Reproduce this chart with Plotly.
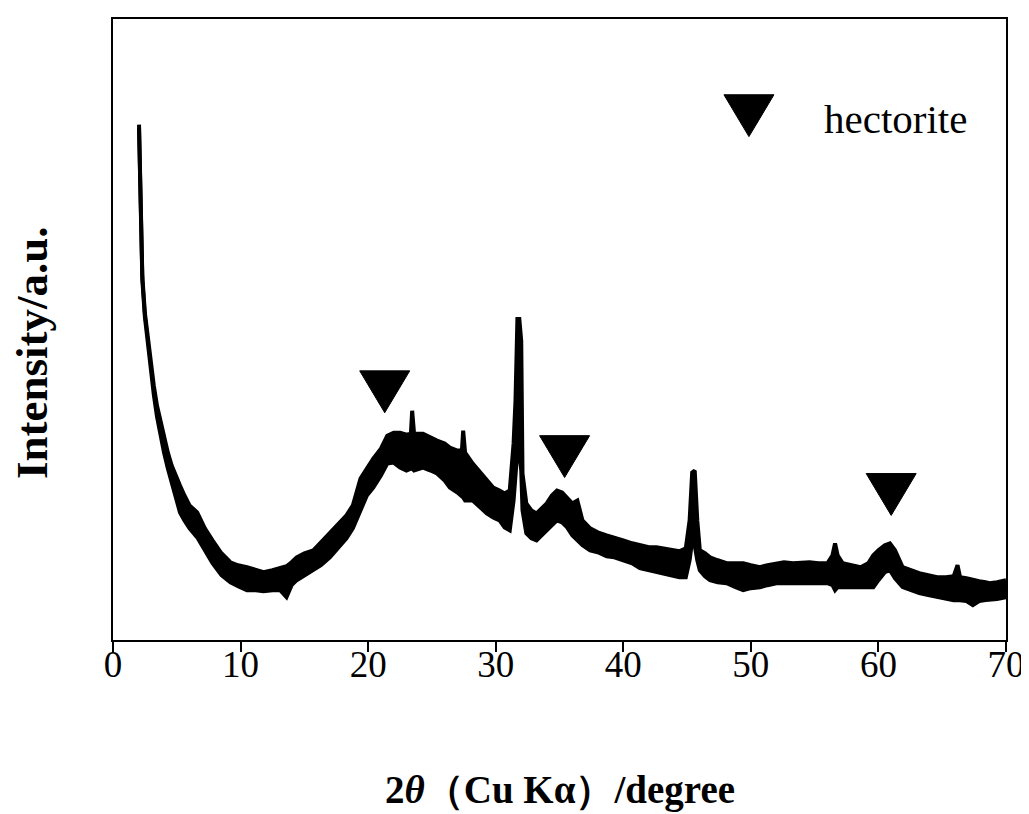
import plotly.graph_objects as go

# 2-theta positions (degree) and the upper / lower edges of the noisy XRD trace (a.u.)
two_theta = [2.04, 2.12, 2.19, 2.30, 2.50, 2.74, 3.0, 3.2, 3.45, 3.7, 4.0, 4.3, 4.6, 4.9, 5.25, 5.6, 6.0,
             6.6, 7.2, 7.8, 8.5, 9.2, 9.8, 10.5, 11.2, 11.8, 12.5, 13.1, 13.6, 14.0, 14.4, 15.0, 15.7,
             16.3, 17.0, 17.6, 18.3, 18.8, 19.4, 19.9, 20.4, 21.0, 21.5, 22.0, 22.5, 23.0, 23.35, 23.45,
             23.6, 24.3, 24.9, 25.4, 26.0, 26.4, 27.0, 27.35, 27.45, 27.6, 28.2, 28.8, 29.3, 29.8, 30.3,
             30.7, 31.1, 31.4, 31.55, 31.7, 31.85, 32.0, 32.1, 32.4, 32.8, 33.2, 33.6, 34.0, 34.4, 34.8,
             35.2, 35.6, 36.0, 36.4, 36.8, 37.4, 38.0, 38.7, 39.3, 40.0, 40.7, 41.3, 42.0, 42.6, 43.2,
             43.8, 44.4, 44.9, 45.2, 45.4, 45.6, 45.8, 46.0, 46.4, 46.8, 47.4, 48.1, 48.8, 49.4, 50.0,
             50.7, 51.3, 52.0, 52.6, 53.3, 54.0, 54.6, 55.3, 56.0, 56.4, 56.6, 56.8, 57.2, 57.9, 58.6,
             59.2, 59.6, 60.0, 60.5, 60.9, 61.3, 61.9, 62.5, 63.2, 63.9, 64.6, 65.3, 65.9, 66.2, 66.4,
             66.9, 67.4, 67.9, 68.4, 68.7, 69.3, 70.0]
upper = [517, 470, 417, 365, 328, 300, 275, 255, 235, 220, 203, 188, 175, 165, 155, 145, 135,
         128, 112, 100, 87, 78, 75, 73, 70, 68, 70, 72, 74, 78, 83, 87, 90,
         98, 107, 115, 125, 135, 162, 172, 182, 192, 205, 208, 208, 206, 207, 230,
         207, 207, 203, 200, 197, 193, 190, 190, 210, 188, 177, 168, 160, 153, 150,
         147, 150, 197, 240, 322, 322, 300, 167, 137, 130, 127, 132, 137, 145, 150,
         148, 143, 137, 140, 120, 112, 108, 105, 103, 100, 97, 95, 93, 93, 92,
         90, 89, 92, 120, 168, 170, 120, 90, 87, 83, 80, 77, 77, 77, 75,
         73, 75, 77, 78, 77, 78, 78, 77, 77, 85, 97, 85, 77, 75, 73,
         77, 85, 90, 95, 97, 90, 73, 70, 67, 65, 63, 63, 64, 75, 63,
         62, 60, 59, 58, 57, 58, 60]
lower = [514, 467, 414, 361, 324, 294, 268, 246, 224, 207, 188, 172, 157, 143, 128, 120, 112,
         103, 90, 77, 65, 58, 54, 50, 50, 49, 50, 50, 43, 55, 60, 65, 70,
         75, 83, 92, 102, 112, 130, 145, 153, 165, 177, 178, 173, 170, 172, 172,
         170, 173, 170, 167, 160, 153, 148, 145, 143, 140, 140, 133, 127, 123, 120,
         113, 110, 140, 170, 190, 190, 170, 130, 107, 102, 100, 105, 110, 115, 120,
         118, 113, 105, 100, 95, 90, 88, 84, 83, 80, 77, 72, 70, 68, 66,
         64, 63, 63, 80, 100, 95, 80, 70, 64, 60, 58, 57, 53, 50, 52,
         53, 55, 57, 57, 57, 56, 57, 56, 57, 55, 50, 53, 53, 53, 53,
         52, 53, 60, 68, 70, 62, 53, 50, 47, 45, 43, 42, 40, 40, 40,
         39, 35, 39, 40, 40, 41, 43]

# hectorite reflections marked with down-triangles: position and tip height
hect_pos = [21.3, 35.4, 61.0]
hect_tip = [228, 163, 125]
legend_pos = [49.85]
legend_tip = [505]
legend_label = "hectorite"

x_ticks = [0, 10, 20, 30, 40, 50, 60, 70]

FONT = "Liberation Serif, Times New Roman, serif"

fig = go.Figure()
fig.add_trace(go.Scatter(x=two_theta, y=lower, mode="lines",
                         line=dict(color="black", width=4), showlegend=False, hoverinfo="skip"))
fig.add_trace(go.Scatter(x=two_theta, y=upper, mode="lines", fill="tonexty",
                         fillcolor="black", line=dict(color="black", width=4),
                         showlegend=False))

# triangles as paths in data coordinates
TRI_HALF_W = 1.96   # degree
TRI_H = 42          # a.u.
shapes = []
for px, tip in list(zip(hect_pos, hect_tip)) + list(zip(legend_pos, legend_tip)):
    path = (f"M {px - TRI_HALF_W} {tip + TRI_H} L {px + TRI_HALF_W} {tip + TRI_H} "
            f"L {px} {tip} Z")
    shapes.append(dict(type="path", path=path, xref="x", yref="y",
                       fillcolor="black", line=dict(color="black", width=1)))

annotations = [
    dict(x=55.6, y=523, xref="x", yref="y", text=legend_label, showarrow=False,
         xanchor="left", yanchor="middle", font=dict(family=FONT, size=41, color="black")),
    dict(x=0.5, y=-0.241, xref="paper", yref="paper",
         text="<b>2<i>θ</i>（Cu Kα）/degree</b>", showarrow=False,
         xanchor="center", yanchor="middle", font=dict(family=FONT, size=39, color="black")),
    dict(x=-0.0907, y=0.462, xref="paper", yref="paper", text="<b>Intensity/a.u.</b>",
         showarrow=False, textangle=-90, xanchor="center", yanchor="middle",
         font=dict(family=FONT, size=45, color="black")),
]

fig.update_layout(
    width=1029, height=814,
    margin=dict(l=105, r=31, t=9, b=182),
    paper_bgcolor="white", plot_bgcolor="white",
    shapes=shapes, annotations=annotations,
    xaxis=dict(range=[0, 70], tickvals=x_ticks, ticks="outside", ticklen=10, tickwidth=1.5,
               tickcolor="black", showline=True, linecolor="black", linewidth=1.5, mirror=True,
               showgrid=False, zeroline=False, ticklabelstandoff=-19,
               tickfont=dict(family=FONT, size=37, color="black")),
    yaxis=dict(range=[0, 623], showticklabels=False, ticks="", showline=True,
               linecolor="black", linewidth=1.5, mirror=True, showgrid=False, zeroline=False),
)

fig.write_html("out.html")
